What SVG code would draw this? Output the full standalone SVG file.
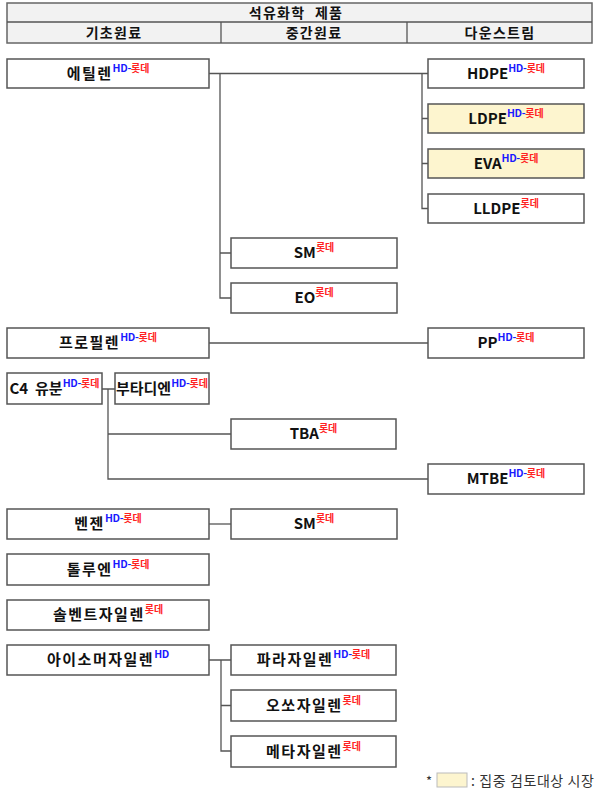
<svg xmlns="http://www.w3.org/2000/svg" width="600" height="798" viewBox="0 0 600 798">
<style>
.box{fill:#ffffff;stroke:#555555;stroke-width:1.5}
.hl{fill:#fdf5cf}
.lbl{font-family:"Noto Sans CJK KR","Liberation Sans",sans-serif;font-size:15px;font-weight:bold;fill:#111111;text-anchor:middle;white-space:pre}
.ko{letter-spacing:1.5px}
.hd{fill:#1a1aff;font-size:10.5px;font-weight:bold;letter-spacing:-0.3px}
.lt{fill:#ff2222;font-size:10px;font-weight:bold;letter-spacing:0}
.hdr{font-family:"Noto Sans CJK KR","Liberation Sans",sans-serif;font-size:14px;font-weight:bold;fill:#111111;text-anchor:middle;letter-spacing:1.3px}
.con{fill:none;stroke:#555555;stroke-width:1.3}
</style>
<g id="header">
<rect x="7" y="3" width="585" height="40" fill="#f2f2f2" stroke="#666666" stroke-width="1.5"/>
<line x1="7" y1="22" x2="592" y2="22" stroke="#555555" stroke-width="1.3"/>
<line x1="221" y1="22" x2="221" y2="43" stroke="#555555" stroke-width="1.3"/>
<line x1="407" y1="22" x2="407" y2="43" stroke="#555555" stroke-width="1.3"/>
<text class="hdr" x="296" y="18" word-spacing="5">석유화학 제품</text>
<text class="hdr" x="114" y="37.5">기초원료</text>
<text class="hdr" x="314" y="37.5">중간원료</text>
<text class="hdr" x="500" y="37.5">다운스트림</text>
</g>
<g id="connectors">
<path class="con" d="M209 73.5H428M220 73.5V298H231M220 253H231"/>
<path class="con" d="M422 73.5V208.5H428M422 118.5H428M422 163.5H428"/>
<path class="con" d="M209 343H428"/>
<path class="con" d="M102 389H115M108 389V479H428M108 434H231"/>
<path class="con" d="M209 524H231"/>
<path class="con" d="M209 660H231M221 660V751H231M221 705.5H231"/>
</g>
<g id="n-ethylene"><rect class="box" x="7" y="59" width="202" height="29"/><text class="lbl ko" x="108" y="79">에틸렌<tspan class="hd" dy="-7">HD-</tspan><tspan class="lt">롯데</tspan></text></g>
<g id="n-hdpe"><rect class="box" x="428" y="59" width="156" height="29"/><text class="lbl" x="506" y="79">HDPE<tspan class="hd" dy="-7">HD-</tspan><tspan class="lt">롯데</tspan></text></g>
<g id="n-ldpe"><rect class="box hl" x="428" y="104" width="156" height="29"/><text class="lbl" x="506" y="124">LDPE<tspan class="hd" dy="-7">HD-</tspan><tspan class="lt">롯데</tspan></text></g>
<g id="n-eva"><rect class="box hl" x="428" y="149" width="156" height="29"/><text class="lbl" x="506" y="169">EVA<tspan class="hd" dy="-7">HD-</tspan><tspan class="lt">롯데</tspan></text></g>
<g id="n-lldpe"><rect class="box" x="428" y="194" width="156" height="29"/><text class="lbl" x="506" y="214">LLDPE<tspan class="lt" dy="-7">롯데</tspan></text></g>
<g id="n-sm1"><rect class="box" x="231" y="238" width="166" height="30"/><text class="lbl" x="314" y="258">SM<tspan class="lt" dy="-7">롯데</tspan></text></g>
<g id="n-eo"><rect class="box" x="231" y="283" width="166" height="30"/><text class="lbl" x="314" y="303">EO<tspan class="lt" dy="-7">롯데</tspan></text></g>
<g id="n-propylene"><rect class="box" x="7" y="328" width="202" height="30"/><text class="lbl ko" x="108" y="348">프로필렌<tspan class="hd" dy="-7">HD-</tspan><tspan class="lt">롯데</tspan></text></g>
<g id="n-pp"><rect class="box" x="428" y="328" width="156" height="30"/><text class="lbl" x="506" y="348">PP<tspan class="hd" dy="-7">HD-</tspan><tspan class="lt">롯데</tspan></text></g>
<g id="n-c4"><rect class="box" x="7" y="373" width="95" height="31"/><text class="lbl" x="54.5" y="394" xml:space="preserve">C4  유분<tspan class="hd" dy="-7">HD-</tspan><tspan class="lt">롯데</tspan></text></g>
<g id="n-butadiene"><rect class="box" x="115" y="373" width="94" height="31"/><text class="lbl" x="162" y="394">부타디엔<tspan class="hd" dy="-7">HD-</tspan><tspan class="lt">롯데</tspan></text></g>
<g id="n-tba"><rect class="box" x="231" y="419" width="165" height="30"/><text class="lbl" x="313.5" y="439">TBA<tspan class="lt" dy="-7">롯데</tspan></text></g>
<g id="n-mtbe"><rect class="box" x="428" y="464" width="156" height="30"/><text class="lbl" x="506" y="484">MTBE<tspan class="hd" dy="-7">HD-</tspan><tspan class="lt">롯데</tspan></text></g>
<g id="n-benzene"><rect class="box" x="7" y="509" width="202" height="30"/><text class="lbl ko" x="108" y="529">벤젠<tspan class="hd" dy="-7">HD-</tspan><tspan class="lt">롯데</tspan></text></g>
<g id="n-sm2"><rect class="box" x="231" y="509" width="166" height="30"/><text class="lbl" x="314" y="529">SM<tspan class="lt" dy="-7">롯데</tspan></text></g>
<g id="n-toluene"><rect class="box" x="7" y="554" width="202" height="31"/><text class="lbl ko" x="108" y="575">톨루엔<tspan class="hd" dy="-7">HD-</tspan><tspan class="lt">롯데</tspan></text></g>
<g id="n-solvent"><rect class="box" x="7" y="600" width="202" height="30"/><text class="lbl ko" x="108" y="620">솔벤트자일렌<tspan class="lt" dy="-7">롯데</tspan></text></g>
<g id="n-isomer"><rect class="box" x="7" y="645" width="202" height="30"/><text class="lbl ko" x="108" y="665">아이소머자일렌<tspan class="hd" dy="-7">HD</tspan></text></g>
<g id="n-para"><rect class="box" x="231" y="645" width="165" height="30"/><text class="lbl ko" x="313.5" y="665">파라자일렌<tspan class="hd" dy="-7">HD-</tspan><tspan class="lt">롯데</tspan></text></g>
<g id="n-ortho"><rect class="box" x="231" y="690" width="165" height="31"/><text class="lbl ko" x="313.5" y="711">오쏘자일렌<tspan class="lt" dy="-7">롯데</tspan></text></g>
<g id="n-meta"><rect class="box" x="231" y="736" width="165" height="31"/><text class="lbl ko" x="313.5" y="757">메타자일렌<tspan class="lt" dy="-7">롯데</tspan></text></g>
<g id="legend">
<text x="426" y="786" font-family="Noto Sans CJK KR,Liberation Sans,sans-serif" font-size="13" fill="#333333">*</text>
<rect x="437" y="773" width="30" height="14" fill="#fdf5cf" stroke="#bbbbbb" stroke-width="1"/>
<text x="471" y="786" font-family="Noto Sans CJK KR,Liberation Sans,sans-serif" font-size="14" letter-spacing="0.6" fill="#333333" xml:space="preserve">: 집중 검토대상 시장</text>
</g>
</svg>
